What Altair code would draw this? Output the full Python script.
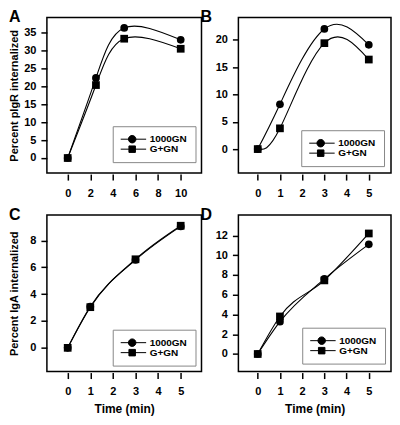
import altair as alt
import pandas as pd

FONT = "Liberation Sans"

panel_labels = ["A", "B", "C", "D"]
series_names = ["1000GN", "G+GN"]

# Panel A (pIgR, 0-10 min)
a_time = [0, 2.5, 5, 10]
a_1000gn = [0, 22.3, 36.2, 32.9]
a_ggn = [0, 20.3, 33.2, 30.4]
a_xticks = [0, 2, 4, 6, 8, 10]
a_yticks = [0, 5, 10, 15, 20, 25, 30, 35]

# Panel B (pIgR, 0-5 min)
b_time = [0, 1, 3, 5]
b_1000gn = [0, 8.2, 22.0, 19.1]
b_ggn = [0, 3.8, 19.4, 16.4]
b_xticks = [0, 1, 2, 3, 4, 5]
b_yticks = [0, 5, 10, 15, 20]

# Panel C (IgA)
c_time = [0, 1, 3, 5]
c_1000gn = [0, 3.07, 6.55, 9.05]
c_ggn = [0, 3.03, 6.6, 9.1]
c_xticks = [0, 1, 2, 3, 4, 5]
c_yticks = [0, 2, 4, 6, 8]

# Panel D (IgA)
d_time = [0, 1, 3, 5]
d_1000gn = [0, 3.27, 7.6, 11.1]
d_ggn = [0, 3.8, 7.45, 12.2]
d_xticks = [0, 1, 2, 3, 4, 5]
d_yticks = [0, 2, 4, 6, 8, 10, 12]

legend_paths = [
    "M-2.8,0H2.8M0.75,0A0.75,0.75,0,1,1,-0.75,0A0.75,0.75,0,1,1,0.75,0Z",
    "M-2.8,0H2.8M-0.65,-0.65H0.65V0.65H-0.65Z",
]

LEFT = -38


def panel(label, time, s1, s2, xdom, xticks, ydom, yticks, ytitle, xtitle,
          interp, lx, ly, ytp, w, h):
    df = pd.DataFrame({
        "time": list(time) * 2,
        "value": list(s1) + list(s2),
        "series": [series_names[0]] * len(time) + [series_names[1]] * len(time),
    })
    xaxis_kw = dict(values=xticks, format="d")
    xaxis_kw["title"] = xtitle if xtitle else None
    yaxis_kw = dict(values=yticks, format="d", titlePadding=ytp)
    yaxis_kw["title"] = ytitle if ytitle else None
    x = alt.X("time:Q", scale=alt.Scale(domain=xdom, nice=False, zero=False),
              axis=alt.Axis(**xaxis_kw))
    y = alt.Y("value:Q", scale=alt.Scale(domain=ydom, nice=False, zero=False),
              axis=alt.Axis(**yaxis_kw))
    base = alt.Chart(df)
    lines = base.mark_line(color="black", strokeWidth=1.1, interpolate=interp).encode(
        x=x, y=y, detail="series:N")
    points = base.mark_point(filled=True, color="black", size=60, opacity=1).encode(
        x=x, y=y,
        shape=alt.Shape("series:N",
                        scale=alt.Scale(domain=series_names, range=["circle", "square"]),
                        legend=None))
    legend = alt.Legend(
        orient="none", legendX=lx, legendY=ly, title=None,
        direction="vertical", padding=8, fillColor="white",
        strokeColor="#888888", symbolSize=100, clipHeight=10,
        symbolFillColor="black", symbolStrokeColor="black",
        symbolStrokeWidth=1, symbolOffset=6, labelOffset=12,
        labelFont=FONT, labelFontSize=10, labelFontWeight="bold",
        labelColor="black", rowPadding=0)
    leg = base.transform_filter("datum.time < -1000").mark_point(
        filled=True, opacity=1, strokeWidth=1).encode(
        x=x, y=y,
        shape=alt.Shape("series:N",
                        scale=alt.Scale(domain=series_names, range=legend_paths),
                        legend=legend),
        stroke=alt.Stroke("series:N",
                          scale=alt.Scale(domain=series_names, range=["black", "black"]),
                          legend=legend),
        fill=alt.Fill("series:N",
                      scale=alt.Scale(domain=series_names, range=["black", "black"]),
                      legend=legend))
    letter = alt.Chart(pd.DataFrame({"label": [label]})).mark_text(
        font=FONT, fontSize=16, fontWeight="bold", align="left",
        baseline="top", color="black").encode(
        text="label:N", x=alt.value(LEFT), y=alt.value(-8))
    return alt.layer(lines, points, leg, letter).resolve_scale(
        shape="independent", stroke="independent", fill="independent"
    ).properties(width=w, height=h)


pa = panel("A", a_time, a_1000gn, a_ggn, [-1.84, 11.84], a_xticks, [-4.2, 39.1],
           a_yticks, "Percent pIgR internalized", None, "natural", 66, 109, 4, 155, 156)
pb = panel("B", b_time, b_1000gn, b_ggn, [-0.87, 6.0], b_xticks, [-4.4, 24.1],
           b_yticks, None, None, "natural", 63, 113, 5, 153, 156)
pc = panel("C", c_time, c_1000gn, c_ggn, [-0.92, 5.92], c_xticks, [-1.77, 9.9],
           c_yticks, "Percent IgA internalized", "Time (min)", "monotone", 66, 115, 10, 155, 157)
pd_ = panel("D", d_time, d_1000gn, d_ggn, [-0.87, 6.0], d_xticks, [-1.78, 14.07],
            d_yticks, None, "Time (min)", "monotone", 64, 113, 5, 153, 157)

chart = alt.concat(pa, pb, pc, pd_, columns=2, spacing={"row": 42, "column": 37},
                   bounds="flush").properties(padding=0).configure(
    font=FONT).configure_view(stroke="black", strokeWidth=1.5).configure_axis(
    grid=False, domain=False, tickColor="black", tickWidth=1.5, tickSize=6,
    labelFont=FONT, labelFontSize=11, labelFontWeight="bold", labelColor="black",
    titleFont=FONT, titleFontSize=11, titleFontWeight="bold", titleColor="black"
).configure_axisX(offset=1, labelPadding=7, titlePadding=7, titleFontSize=12
).configure_axisY(labelPadding=5)

chart.save("out.html", embed_options={"renderer": "svg", "actions": False})
